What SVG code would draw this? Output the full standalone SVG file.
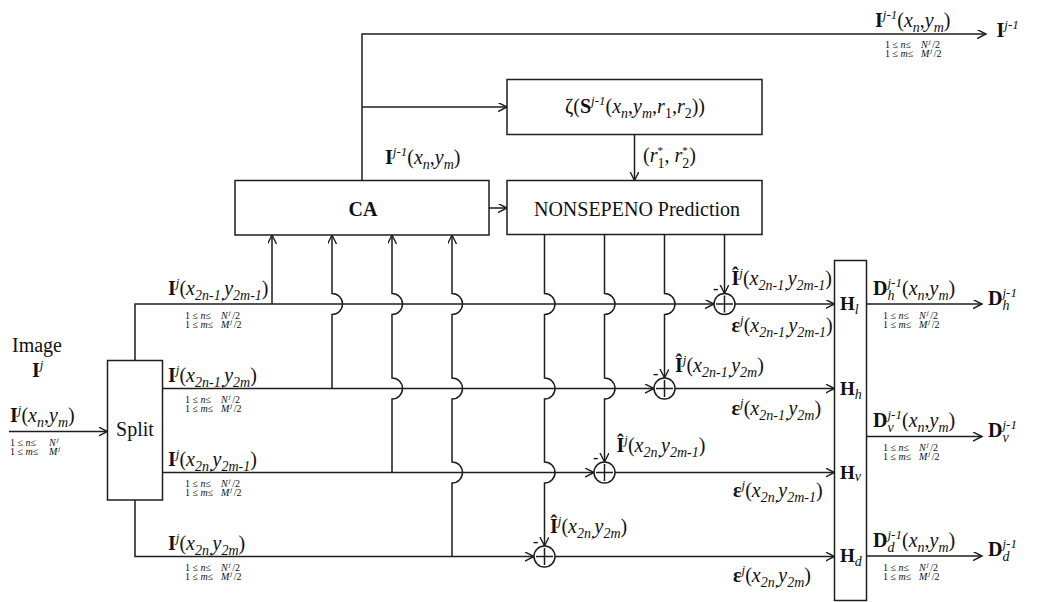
<svg xmlns="http://www.w3.org/2000/svg" width="1037" height="602" viewBox="0 0 1037 602">
<style>
.ln{fill:none;stroke:#1e1e1e;stroke-width:1.5}
.bx{fill:#fff;stroke:#1e1e1e;stroke-width:1.5}
.ar{marker-end:url(#ah)}
text{font-family:"Liberation Serif","Times New Roman",serif;fill:#111}
.m{font-size:20px}
.b{font-weight:bold}
.i{font-style:italic}
.sp{font-size:13px;font-style:italic}
.st{font-size:11px}
.sb{font-size:14px;font-style:italic}
.sn{font-size:14px}
.c{font-size:10px}
.cs{font-size:7px;font-style:italic}
.h{font-size:19px;font-weight:bold}
.mi{font-size:16px;font-weight:bold}
</style>
<defs>
<marker id="ah" markerWidth="12" markerHeight="12" refX="9" refY="4.5" orient="auto" markerUnits="userSpaceOnUse">
<path d="M0,0 L9,4.5 L0,9" fill="none" stroke="#1e1e1e" stroke-width="1.4"/>
</marker>
</defs>
<rect width="1037" height="602" fill="#fff"/>

<g id="connectors">
<path class="ln ar" d="M9,431.5 H107.5"/>
<path class="ln ar" d="M135,360.5 V304 H714"/>
<path class="ln ar" d="M162.5,388.5 H654"/>
<path class="ln ar" d="M162.5,472.5 H594"/>
<path class="ln ar" d="M135,500 V556.5 H534"/>
<path class="ln ar" d="M735,304 H834.5"/>
<path class="ln ar" d="M675,388.5 H834.5"/>
<path class="ln ar" d="M615,472.5 H834.5"/>
<path class="ln ar" d="M555,556.5 H834.5"/>
<path class="ln ar" d="M272,304 V235"/>
<path class="ln ar" d="M332,388.5 V314.5 A10.5,10.5 0 0 0 332,293.5 V235"/>
<path class="ln ar" d="M392,472.5 V399 A10.5,10.5 0 0 0 392,378 V314.5 A10.5,10.5 0 0 0 392,293.5 V235"/>
<path class="ln ar" d="M452,556.5 V483 A10.5,10.5 0 0 0 452,462 V399 A10.5,10.5 0 0 0 452,378 V314.5 A10.5,10.5 0 0 0 452,293.5 V235"/>
<path class="ln ar" d="M544.5,234.5 V293.5 A10.5,10.5 0 0 1 544.5,314.5 V378 A10.5,10.5 0 0 1 544.5,399 V462 A10.5,10.5 0 0 1 544.5,483 V546"/>
<path class="ln ar" d="M604.5,234.5 V293.5 A10.5,10.5 0 0 1 604.5,314.5 V378 A10.5,10.5 0 0 1 604.5,399 V462"/>
<path class="ln ar" d="M664.5,234.5 V293.5 A10.5,10.5 0 0 1 664.5,314.5 V378"/>
<path class="ln ar" d="M724.5,234.5 V293.5"/>
<path class="ln ar" d="M489,208 H507"/>
<path class="ln ar" d="M362,180.5 V34 H986"/>
<path class="ln ar" d="M362,107 H507"/>
<path class="ln ar" d="M634.5,134.5 V180.5"/>
<path class="ln ar" d="M866.5,304 H982"/>
<path class="ln ar" d="M866.5,436.5 H982"/>
<path class="ln ar" d="M866.5,556 H982"/>
</g>

<g id="split">
<rect class="bx" x="107.5" y="360.5" width="55" height="139.5"/>
<text class="m" x="135" y="436" text-anchor="middle">Split</text>
</g>
<g id="ca">
<rect class="bx" x="235" y="180.5" width="254" height="54.5"/>
<text class="m b" x="363" y="216" text-anchor="middle">CA</text>
</g>
<g id="prediction">
<rect class="bx" x="507" y="180.5" width="255" height="54"/>
<text class="m" x="637" y="215.5" text-anchor="middle">NONSEPENO Prediction</text>
</g>
<g id="zeta">
<rect class="bx" x="507" y="79.5" width="255" height="55"/>
<text class="m" x="565" y="113">ζ(<tspan class="b">S</tspan><tspan class="sp" dy="-8">j-1</tspan><tspan dy="8">(</tspan><tspan class="i">x</tspan><tspan class="sb" dy="5">n</tspan><tspan dy="-5">,</tspan><tspan class="i">y</tspan><tspan class="sb" dy="5">m</tspan><tspan dy="-5">,</tspan><tspan class="i">r</tspan><tspan class="sn" dy="5">1</tspan><tspan dy="-5">,</tspan><tspan class="i">r</tspan><tspan class="sn" dy="5">2</tspan><tspan dy="-5">))</tspan></text>
</g>
<g id="hbox">
<rect class="bx" x="834.5" y="260.5" width="32" height="340"/>
<text class="h" x="840" y="310">H<tspan class="sb" font-weight="normal" dy="4">l</tspan></text>
<text class="h" x="840" y="394.5">H<tspan class="sb" font-weight="normal" dy="4">h</tspan></text>
<text class="h" x="840" y="478.5">H<tspan class="sb" font-weight="normal" dy="2">v</tspan></text>
<text class="h" x="840" y="562">H<tspan class="sb" font-weight="normal" dy="4">d</tspan></text>
</g>
<g id="adder1">
<circle class="bx" cx="724.5" cy="304" r="10.5"/>
<path class="ln" d="M716,304 H733 M724.5,295.5 V312.5"/>
<text class="mi" x="713" y="294">-</text>
</g>
<g id="adder2">
<circle class="bx" cx="664.5" cy="388.5" r="10.5"/>
<path class="ln" d="M656,388.5 H673 M664.5,380 V397"/>
<text class="mi" x="653" y="378.5">-</text>
</g>
<g id="adder3">
<circle class="bx" cx="604.5" cy="472.5" r="10.5"/>
<path class="ln" d="M596,472.5 H613 M604.5,464 V481"/>
<text class="mi" x="593" y="462.5">-</text>
</g>
<g id="adder4">
<circle class="bx" cx="544.5" cy="556.5" r="10.5"/>
<path class="ln" d="M536,556.5 H553 M544.5,548 V565"/>
<text class="mi" x="533" y="546.5">-</text>
</g>

<g id="labels">
<text class="m" x="12" y="352">Image</text>
<text class="m" x="32" y="376.5"><tspan class="b">I</tspan><tspan class="sp" dy="-8">j</tspan></text>
<text class="m" x="10" y="421.5"><tspan class="b">I</tspan><tspan class="sp" dy="-8">j</tspan><tspan dy="8">(</tspan><tspan class="i">x</tspan><tspan class="sb" dy="5">n</tspan><tspan dy="-5">,</tspan><tspan class="i">y</tspan><tspan class="sb" dy="5">m</tspan><tspan dy="-5">)</tspan></text>
<text class="c" x="10" y="446">1 ≤ <tspan class="i">n</tspan>≤<tspan class="i" x="49">N</tspan><tspan class="cs" dx="1" dy="-4">j</tspan></text>
<text class="c" x="10" y="455">1 ≤ <tspan class="i">m</tspan>≤<tspan class="i" x="49">M</tspan><tspan class="cs" dx="1" dy="-4">j</tspan></text>

<text class="m" x="168" y="295"><tspan class="b">I</tspan><tspan class="sp" dy="-8">j</tspan><tspan dy="8">(</tspan><tspan class="i">x</tspan><tspan class="sb" dy="5">2n-1,</tspan><tspan class="i" dy="-5">y</tspan><tspan class="sb" dy="5">2m-1</tspan><tspan dy="-5">)</tspan></text>
<text class="m" x="168" y="381.5"><tspan class="b">I</tspan><tspan class="sp" dy="-8">j</tspan><tspan dy="8">(</tspan><tspan class="i">x</tspan><tspan class="sb" dy="5">2n-1,</tspan><tspan class="i" dy="-5">y</tspan><tspan class="sb" dy="5">2m</tspan><tspan dy="-5">)</tspan></text>
<text class="m" x="168" y="466"><tspan class="b">I</tspan><tspan class="sp" dy="-8">j</tspan><tspan dy="8">(</tspan><tspan class="i">x</tspan><tspan class="sb" dy="5">2n,</tspan><tspan class="i" dy="-5">y</tspan><tspan class="sb" dy="5">2m-1</tspan><tspan dy="-5">)</tspan></text>
<text class="m" x="168" y="550"><tspan class="b">I</tspan><tspan class="sp" dy="-8">j</tspan><tspan dy="8">(</tspan><tspan class="i">x</tspan><tspan class="sb" dy="5">2n,</tspan><tspan class="i" dy="-5">y</tspan><tspan class="sb" dy="5">2m</tspan><tspan dy="-5">)</tspan></text>

<text class="c" x="185" y="318.5">1 ≤ <tspan class="i">n</tspan>≤<tspan class="i" x="221">N</tspan><tspan class="cs" dx="1" dy="-4">j</tspan><tspan dx="1.5" dy="4">/2</tspan></text>
<text class="c" x="185" y="327.5">1 ≤ <tspan class="i">m</tspan>≤<tspan class="i" x="221">M</tspan><tspan class="cs" dx="1" dy="-4">j</tspan><tspan dx="1.5" dy="4">/2</tspan></text>
<text class="c" x="185" y="403">1 ≤ <tspan class="i">n</tspan>≤<tspan class="i" x="221">N</tspan><tspan class="cs" dx="1" dy="-4">j</tspan><tspan dx="1.5" dy="4">/2</tspan></text>
<text class="c" x="185" y="412">1 ≤ <tspan class="i">m</tspan>≤<tspan class="i" x="221">M</tspan><tspan class="cs" dx="1" dy="-4">j</tspan><tspan dx="1.5" dy="4">/2</tspan></text>
<text class="c" x="185" y="487">1 ≤ <tspan class="i">n</tspan>≤<tspan class="i" x="221">N</tspan><tspan class="cs" dx="1" dy="-4">j</tspan><tspan dx="1.5" dy="4">/2</tspan></text>
<text class="c" x="185" y="496">1 ≤ <tspan class="i">m</tspan>≤<tspan class="i" x="221">M</tspan><tspan class="cs" dx="1" dy="-4">j</tspan><tspan dx="1.5" dy="4">/2</tspan></text>
<text class="c" x="185" y="571">1 ≤ <tspan class="i">n</tspan>≤<tspan class="i" x="221">N</tspan><tspan class="cs" dx="1" dy="-4">j</tspan><tspan dx="1.5" dy="4">/2</tspan></text>
<text class="c" x="185" y="580">1 ≤ <tspan class="i">m</tspan>≤<tspan class="i" x="221">M</tspan><tspan class="cs" dx="1" dy="-4">j</tspan><tspan dx="1.5" dy="4">/2</tspan></text>

<text class="m" x="385" y="164"><tspan class="b">I</tspan><tspan class="sp" dy="-8">j-1</tspan><tspan dy="8">(</tspan><tspan class="i">x</tspan><tspan class="sb" dy="5">n</tspan><tspan dy="-5">,</tspan><tspan class="i">y</tspan><tspan class="sb" dy="5">m</tspan><tspan dy="-5">)</tspan></text>
<text class="m" x="643" y="161.5">(<tspan class="i">r</tspan><tspan class="st" x="657.5" dy="-8">*</tspan><tspan class="sn" x="657.5" dy="14">1</tspan><tspan x="664.5" dy="-6">, </tspan><tspan class="i">r</tspan><tspan class="st" x="682.3" dy="-8">*</tspan><tspan class="sn" x="682.3" dy="14">2</tspan><tspan x="689.3" dy="-6">)</tspan></text>

<text class="m" x="875" y="26.5"><tspan class="b">I</tspan><tspan class="sp" dy="-8">j-1</tspan><tspan dy="8">(</tspan><tspan class="i">x</tspan><tspan class="sb" dy="5">n</tspan><tspan dy="-5">,</tspan><tspan class="i">y</tspan><tspan class="sb" dy="5">m</tspan><tspan dy="-5">)</tspan></text>
<text class="c" x="885" y="48">1 ≤ <tspan class="i">n</tspan>≤<tspan class="i" x="921">N</tspan><tspan class="cs" dx="1" dy="-4">j</tspan><tspan dx="1.5" dy="4">/2</tspan></text>
<text class="c" x="885" y="57">1 ≤ <tspan class="i">m</tspan>≤<tspan class="i" x="921">M</tspan><tspan class="cs" dx="1" dy="-4">j</tspan><tspan dx="1.5" dy="4">/2</tspan></text>
<text class="m" x="996.5" y="37"><tspan class="b">I</tspan><tspan class="sp" dy="-8">j-1</tspan></text>

<text class="m" x="731.5" y="285"><tspan class="b">Î</tspan><tspan class="sp" dy="-8">j</tspan><tspan dy="8">(</tspan><tspan class="i">x</tspan><tspan class="sb" dy="5">2n-1,</tspan><tspan class="i" dy="-5">y</tspan><tspan class="sb" dy="5">2m-1</tspan><tspan dy="-5">)</tspan></text>
<text class="m" x="675" y="371.5"><tspan class="b">Î</tspan><tspan class="sp" dy="-8">j</tspan><tspan dy="8">(</tspan><tspan class="i">x</tspan><tspan class="sb" dy="5">2n-1,</tspan><tspan class="i" dy="-5">y</tspan><tspan class="sb" dy="5">2m</tspan><tspan dy="-5">)</tspan></text>
<text class="m" x="616.5" y="451.5"><tspan class="b">Î</tspan><tspan class="sp" dy="-8">j</tspan><tspan dy="8">(</tspan><tspan class="i">x</tspan><tspan class="sb" dy="5">2n,</tspan><tspan class="i" dy="-5">y</tspan><tspan class="sb" dy="5">2m-1</tspan><tspan dy="-5">)</tspan></text>
<text class="m" x="550" y="533"><tspan class="b">Î</tspan><tspan class="sp" dy="-8">j</tspan><tspan dy="8">(</tspan><tspan class="i">x</tspan><tspan class="sb" dy="5">2n,</tspan><tspan class="i" dy="-5">y</tspan><tspan class="sb" dy="5">2m</tspan><tspan dy="-5">)</tspan></text>

<text class="m" x="731.5" y="331.5"><tspan class="b">ε</tspan><tspan class="sp" dy="-8">j</tspan><tspan dy="8">(</tspan><tspan class="i">x</tspan><tspan class="sb" dy="5">2n-1,</tspan><tspan class="i" dy="-5">y</tspan><tspan class="sb" dy="5">2m-1</tspan><tspan dy="-5">)</tspan></text>
<text class="m" x="731.5" y="415"><tspan class="b">ε</tspan><tspan class="sp" dy="-8">j</tspan><tspan dy="8">(</tspan><tspan class="i">x</tspan><tspan class="sb" dy="5">2n-1,</tspan><tspan class="i" dy="-5">y</tspan><tspan class="sb" dy="5">2m</tspan><tspan dy="-5">)</tspan></text>
<text class="m" x="733" y="496.5"><tspan class="b">ε</tspan><tspan class="sp" dy="-8">j</tspan><tspan dy="8">(</tspan><tspan class="i">x</tspan><tspan class="sb" dy="5">2n,</tspan><tspan class="i" dy="-5">y</tspan><tspan class="sb" dy="5">2m-1</tspan><tspan dy="-5">)</tspan></text>
<text class="m" x="733" y="581.5"><tspan class="b">ε</tspan><tspan class="sp" dy="-8">j</tspan><tspan dy="8">(</tspan><tspan class="i">x</tspan><tspan class="sb" dy="5">2n,</tspan><tspan class="i" dy="-5">y</tspan><tspan class="sb" dy="5">2m</tspan><tspan dy="-5">)</tspan></text>

<text class="m" x="873" y="295"><tspan class="b">D</tspan><tspan class="sp" dy="-8">j-1</tspan><tspan class="sb" x="887.4" dy="13">h</tspan><tspan x="902" dy="-5">(</tspan><tspan class="i">x</tspan><tspan class="sb" dy="5">n</tspan><tspan dy="-5">,</tspan><tspan class="i">y</tspan><tspan class="sb" dy="5">m</tspan><tspan dy="-5">)</tspan></text>
<text class="m" x="873" y="427"><tspan class="b">D</tspan><tspan class="sp" dy="-8">j-1</tspan><tspan class="sb" x="887.4" dy="13">v</tspan><tspan x="902" dy="-5">(</tspan><tspan class="i">x</tspan><tspan class="sb" dy="5">n</tspan><tspan dy="-5">,</tspan><tspan class="i">y</tspan><tspan class="sb" dy="5">m</tspan><tspan dy="-5">)</tspan></text>
<text class="m" x="873" y="546.5"><tspan class="b">D</tspan><tspan class="sp" dy="-8">j-1</tspan><tspan class="sb" x="887.4" dy="13">d</tspan><tspan x="902" dy="-5">(</tspan><tspan class="i">x</tspan><tspan class="sb" dy="5">n</tspan><tspan dy="-5">,</tspan><tspan class="i">y</tspan><tspan class="sb" dy="5">m</tspan><tspan dy="-5">)</tspan></text>

<text class="c" x="883" y="318.5">1 ≤ <tspan class="i">n</tspan>≤<tspan class="i" x="919">N</tspan><tspan class="cs" dx="1" dy="-4">j</tspan><tspan dx="1.5" dy="4">/2</tspan></text>
<text class="c" x="883" y="327.5">1 ≤ <tspan class="i">m</tspan>≤<tspan class="i" x="919">M</tspan><tspan class="cs" dx="1" dy="-4">j</tspan><tspan dx="1.5" dy="4">/2</tspan></text>
<text class="c" x="883" y="451">1 ≤ <tspan class="i">n</tspan>≤<tspan class="i" x="919">N</tspan><tspan class="cs" dx="1" dy="-4">j</tspan><tspan dx="1.5" dy="4">/2</tspan></text>
<text class="c" x="883" y="460">1 ≤ <tspan class="i">m</tspan>≤<tspan class="i" x="919">M</tspan><tspan class="cs" dx="1" dy="-4">j</tspan><tspan dx="1.5" dy="4">/2</tspan></text>
<text class="c" x="883" y="570.5">1 ≤ <tspan class="i">n</tspan>≤<tspan class="i" x="919">N</tspan><tspan class="cs" dx="1" dy="-4">j</tspan><tspan dx="1.5" dy="4">/2</tspan></text>
<text class="c" x="883" y="579.5">1 ≤ <tspan class="i">m</tspan>≤<tspan class="i" x="919">M</tspan><tspan class="cs" dx="1" dy="-4">j</tspan><tspan dx="1.5" dy="4">/2</tspan></text>

<text class="m" x="988" y="305"><tspan class="b">D</tspan><tspan class="sp" dy="-8">j-1</tspan><tspan class="sb" x="1002.4" dy="13">h</tspan></text>
<text class="m" x="988" y="437"><tspan class="b">D</tspan><tspan class="sp" dy="-8">j-1</tspan><tspan class="sb" x="1002.4" dy="13">v</tspan></text>
<text class="m" x="988" y="556"><tspan class="b">D</tspan><tspan class="sp" dy="-8">j-1</tspan><tspan class="sb" x="1002.4" dy="13">d</tspan></text>
</g>
</svg>
